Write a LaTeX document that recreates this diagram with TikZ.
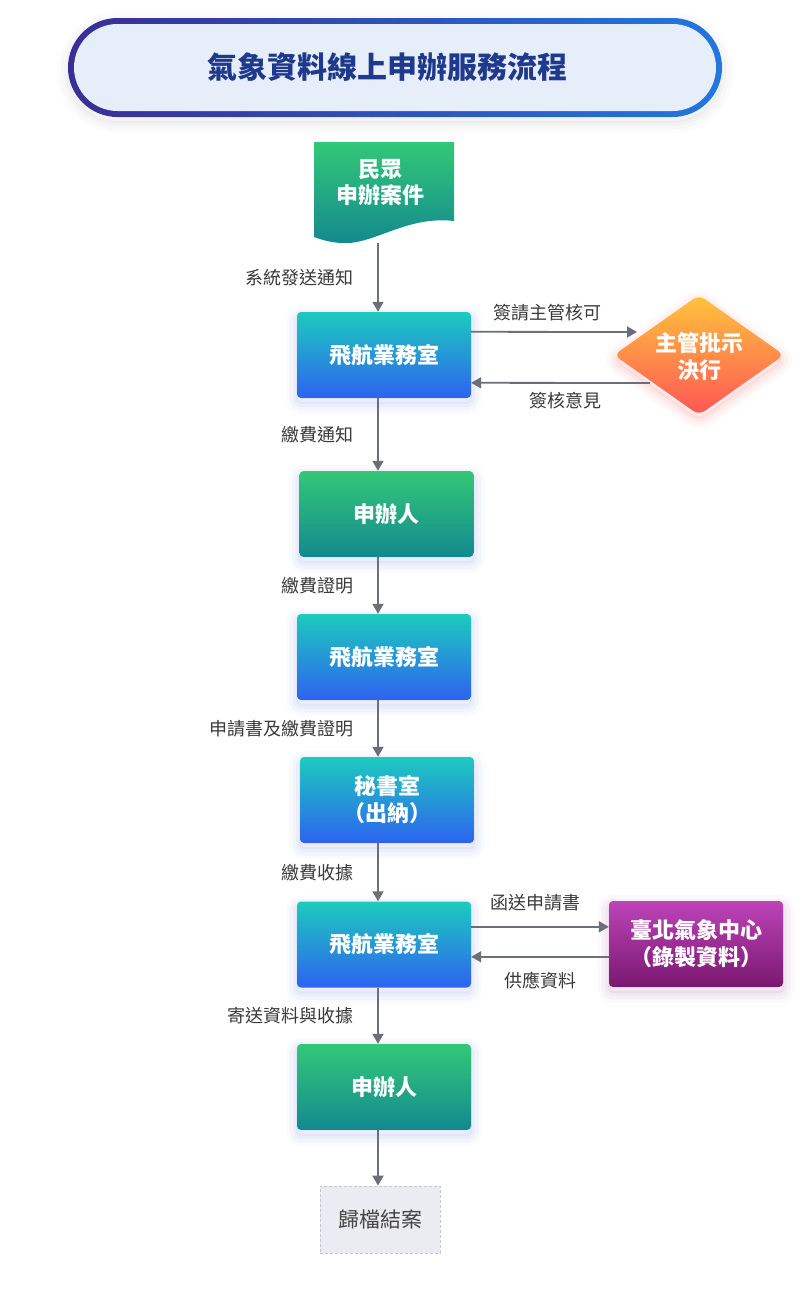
\documentclass[tikz,border=0pt]{standalone}
\usepackage{fontspec}
\setmainfont{Noto Sans CJK TC}
\usetikzlibrary{arrows.meta,calc}
\definecolor{tealtop}{HTML}{1DCBBD}
\definecolor{bluebot}{HTML}{2D63F0}
\definecolor{greentop}{HTML}{33C878}
\definecolor{greenbot}{HTML}{13898F}
\definecolor{purptop}{HTML}{BD43B8}
\definecolor{purpbot}{HTML}{7A1870}
\definecolor{arrowc}{HTML}{6B6F7A}
\definecolor{labc}{HTML}{3A3A3A}
\definecolor{titlec}{HTML}{1F3A8C}
\definecolor{titlebg}{HTML}{E6EEFA}
\definecolor{borderl}{HTML}{3B2D96}
\definecolor{borderr}{HTML}{2277E0}
\definecolor{dtop}{HTML}{FFC43C}
\definecolor{dmid}{HTML}{FF8049}
\definecolor{dbot}{HTML}{FF5656}
\definecolor{endbg}{HTML}{EBEBF2}
\definecolor{endbd}{HTML}{C6C6D0}
\definecolor{endtx}{HTML}{444444}
\definecolor{glowc}{HTML}{3355DD}
\begin{document}
\begin{tikzpicture}[x=1pt,y=-1pt,
  glow/.style={
    preaction={draw=#1, line width=22pt, draw opacity=0.025, transform canvas={yshift=-5pt}},
    preaction={draw=#1, line width=15pt, draw opacity=0.03, transform canvas={yshift=-5pt}},
    preaction={draw=#1, line width=8pt, draw opacity=0.04, transform canvas={yshift=-5pt}},
    preaction={draw=#1, line width=2pt, draw opacity=0.05, transform canvas={yshift=-5pt}}},
  boxbase/.style={rounded corners=4pt, minimum width=174pt, minimum height=86pt, text=white,
    font=\fontsize{22}{27}\selectfont\bfseries, align=center, inner sep=0pt},
  bluebox/.style={boxbase, glow=glowc, top color=tealtop, bottom color=bluebot},
  greenbox/.style={boxbase, glow=glowc, top color=greentop, bottom color=greenbot},
  purpbox/.style={boxbase, glow=purpbot, top color=purptop, bottom color=purpbot},
  arr/.style={draw=arrowc, line width=1.8pt, -{Triangle[length=10pt,width=11pt]}},
  lab/.style={text=labc, font=\fontsize{18}{22}\selectfont, inner sep=0pt},
]
\useasboundingbox (0,0) rectangle (801,1291);
\fill[white] (0,0) rectangle (801,1291);

% title
\path[glow=gray, left color=borderl, right color=borderr, rounded corners=49.5pt]
  (68,18) rectangle (722,117);
\fill[titlebg, rounded corners=43.5pt] (74,24) rectangle (716,111);
\node[text=titlec, font=\fontsize{30}{34}\selectfont\bfseries] (title) at (387,67) {氣象資料線上申辦服務流程};

% document shape
\path[top color=greentop, bottom color=greenbot]
  (314,142) -- (454,142) -- (454,221) .. controls (410,216) and (380,240) .. (350,243)
  .. controls (335,244) and (322,240) .. (314,237) -- cycle;
\node[text=white, font=\fontsize{22}{26}\selectfont\bfseries, align=center] (doc) at (380,183) {民眾\\申辦案件};
\coordinate (docb) at (378,243);

% boxes
\node[bluebox] (b1) at (384,355) {飛航業務室};
\node[greenbox] (b2) at (386.5,514) {申辦人};
\node[bluebox] (b3) at (384,657) {飛航業務室};
\node[bluebox] (b4) at (387,800) {秘書室\\（出納）};
\node[bluebox] (b5) at (384,944.5) {飛航業務室};
\node[greenbox] (b6) at (384,1087) {申辦人};
\node[purpbox] (tc) at (696,944) {臺北氣象中心\\（錄製資料）};

% diamond
\path[glow=red, top color=dtop, middle color=dmid, bottom color=dbot, rounded corners=7pt]
  (699,295) -- (784,355) -- (699,415) -- (614,355) -- cycle;
\node[text=white, font=\fontsize{22}{27}\selectfont\bfseries, align=center] (dia) at (699,357) {主管批示\\決行};

% end
\node[draw=endbd, dash pattern=on 3pt off 2pt, line width=0.8pt, fill=endbg, minimum width=120pt, minimum height=67pt,
  inner sep=0pt, text=endtx, font=\fontsize{21}{25}\selectfont] (end) at (380,1219.5) {歸檔結案};

% vertical arrows
\coordinate (ax) at (378,0);
\draw[arr] (docb) -- node[lab, left=24pt] {系統發送通知} (b1.north -| ax);
\draw[arr] (b1.south -| ax) -- node[lab, left=24pt] {繳費通知} (b2.north -| ax);
\draw[arr] (b2.south -| ax) -- node[lab, left=24pt] {繳費證明} (b3.north -| ax);
\draw[arr] (b3.south -| ax) -- node[lab, left=24pt] {申請書及繳費證明} (b4.north -| ax);
\draw[arr] (b4.south -| ax) -- node[lab, left=24pt] {繳費收據} (b5.north -| ax);
\draw[arr] (b5.south -| ax) -- node[lab, left=24pt] {寄送資料與收據} (b6.north -| ax);
\draw[arr] (b6.south -| ax) -- (end.north -| ax);

% horizontal arrows
\draw[arr] ($(b1.north east)+(0,20)$) -- node[lab, above=10pt, pos=0.46] {簽請主管核可} ($(dia)+(-62,-25)$);
\draw[arr] ($(dia)+(-49,26)$) -- node[lab, below=8pt, pos=0.47] {簽核意見} ($(b1.north east)+(0,71)$);
\draw[arr] ($(b5.north east)+(0,25.5)$) -- node[lab, above=15pt, pos=0.47] {函送申請書} ($(tc.north west)+(0,26)$);
\draw[arr] ($(tc.north west)+(0,56)$) -- node[lab, below=14pt] {供應資料} ($(b5.north east)+(0,55.5)$);
\end{tikzpicture}
\end{document}
